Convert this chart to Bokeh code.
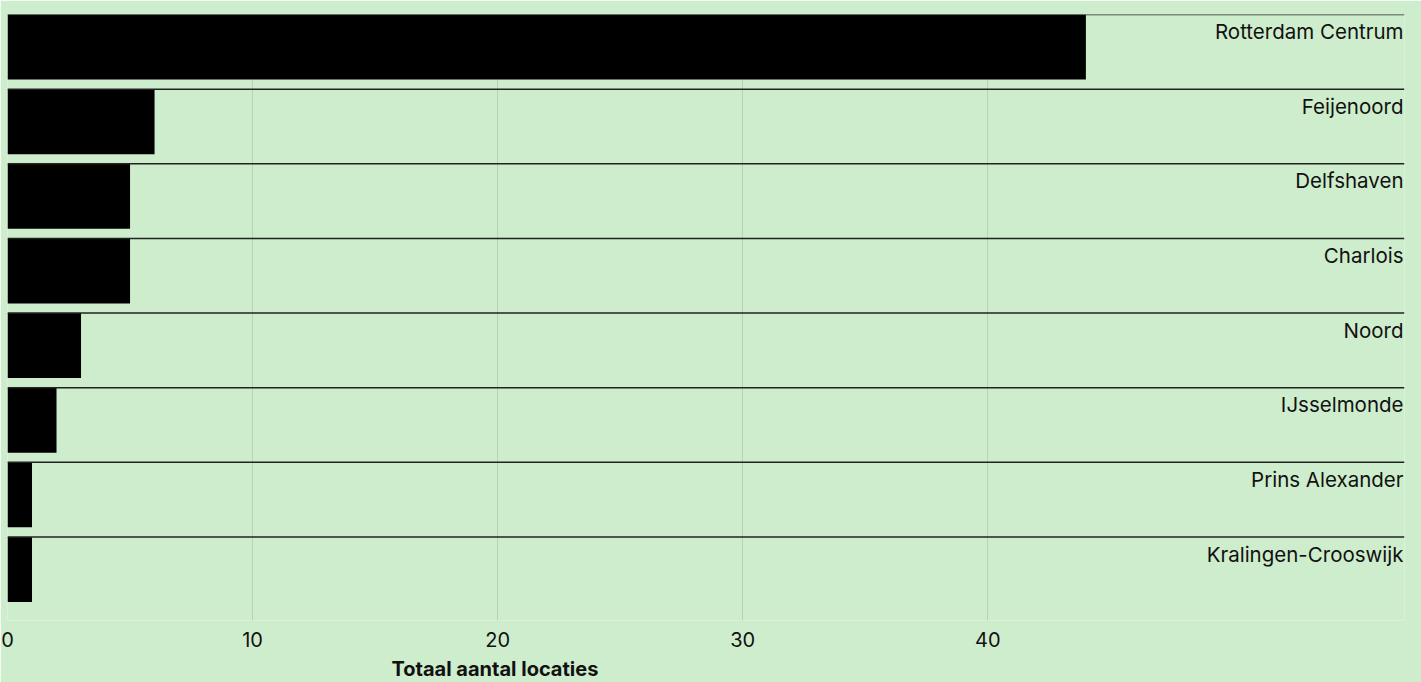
from bokeh.plotting import figure
from bokeh.models import Range1d, FixedTicker, ColumnDataSource, Title
from bokeh.core.properties import value
from bokeh.embed import file_html
from bokeh.resources import INLINE

districts = ["Rotterdam Centrum", "Feijenoord", "Delfshaven", "Charlois",
             "Noord", "IJsselmonde", "Prins Alexander", "Kralingen-Crooswijk"]
counts = [44, 6, 5, 5, 3, 2, 1, 1]
tick_values = [0, 10, 20, 30, 40]
x_label = "Totaal aantal locaties"

BG = "#ceedcc"
XMAX = 57
n = len(districts)
rows = list(range(n))

src = ColumnDataSource(dict(
    name=districts,
    count=counts,
    top=rows,
    bottom=[r + 0.871 for r in rows],
    text_y=[r + 0.23 for r in rows],
    x0=[0] * n,
    x1=[XMAX] * n,
))

p = figure(frame_width=1397, frame_height=606,
           x_range=Range1d(0, XMAX), y_range=Range1d(n + 0.12, 0),
           output_backend="svg", toolbar_location=None,
           min_border_left=7, min_border_right=17, min_border_top=14, min_border_bottom=62)

p.background_fill_color = BG
p.border_fill_color = BG
p.outline_line_color = None

p.quad(left=0, right="count", top="top", bottom="bottom", source=src,
       fill_color="black", line_color=None)
p.segment(x0="x0", x1="x1", y0="top", y1="top", source=src,
          line_color="#222222", line_width=1.5)
p.text(x="x1", y="text_y", text="name", source=src, text_align="right",
       text_baseline="alphabetic", x_offset=-1,
       text_font=value("Inter"), text_font_size="20.5px", text_color="#111111")

p.yaxis.visible = False
p.ygrid.visible = False

ax = p.xaxis[0]
ax.ticker = FixedTicker(ticks=tick_values)
ax.axis_line_color = None
ax.major_tick_line_color = None
ax.minor_tick_line_color = None
ax.major_tick_out = 0
ax.major_tick_in = 0
ax.major_label_standoff = 11
ax.major_label_text_font = "Inter"
ax.major_label_text_font_size = "20px"
ax.major_label_text_color = "#111111"

p.xgrid.ticker = FixedTicker(ticks=tick_values)
p.xgrid.grid_line_color = "#b4d4b2"
p.xgrid.grid_line_width = 1

p.add_layout(Title(text=x_label, align="left", offset=384,
                   text_font="Inter", text_font_style="bold",
                   text_font_size="20px", text_color="#111111", standoff=10), "below")

open("out.html", "w").write(file_html(p, INLINE))
